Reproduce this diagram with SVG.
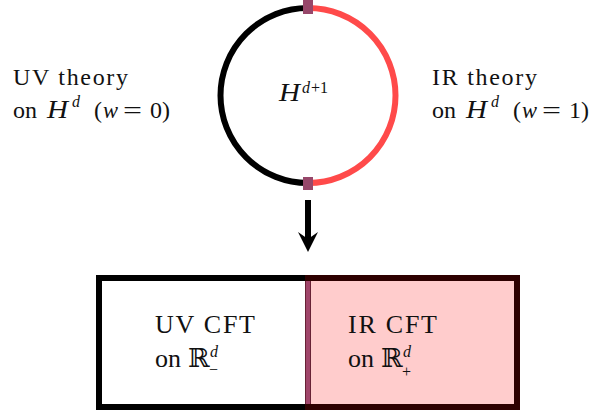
<svg xmlns="http://www.w3.org/2000/svg" width="597" height="415" viewBox="0 0 597 415">
<style>
text{font-family:"Liberation Serif","DejaVu Serif",serif;fill:#111;font-size:24px;}
.b{font-size:26px;}
.i{font-style:italic;}
.s{font-size:16px;}
</style>
<rect width="597" height="415" fill="#fff"/>
<g id="bulk">
<path d="M308,8 A87.5,87.5 0 0 0 308,183" fill="none" stroke="#000" stroke-width="6"/>
<path d="M308,8 A87.5,87.5 0 0 1 308,183" fill="none" stroke="#ff4a4a" stroke-width="6"/>
<rect x="303" y="0" width="10" height="14" fill="#97476a"/>
<rect x="303" y="177" width="10" height="13" fill="#97476a"/>
<text x="279" y="101" class="b i" textLength="21" lengthAdjust="spacingAndGlyphs">H</text>
<text x="302" y="93" class="s i">d</text>
<text x="311" y="93" class="s">+1</text>
</g>
<g id="uv-label">
<text x="13" y="85" textLength="115">UV theory</text>
<text x="13" y="118">on</text>
<text x="47" y="118" class="b i" textLength="21" lengthAdjust="spacingAndGlyphs">H</text>
<text x="72" y="107" class="s i">d</text>
<text x="94" y="118">(</text>
<text x="103" y="118" class="i" textLength="15" lengthAdjust="spacingAndGlyphs">w</text>
<text x="123" y="118" textLength="19" lengthAdjust="spacingAndGlyphs">=</text>
<text x="150" y="118">0)</text>
</g>
<g id="ir-label">
<text x="432" y="85" textLength="105">IR theory</text>
<text x="432" y="118">on</text>
<text x="466" y="118" class="b i" textLength="21" lengthAdjust="spacingAndGlyphs">H</text>
<text x="491" y="107" class="s i">d</text>
<text x="513" y="118">(</text>
<text x="522" y="118" class="i" textLength="15" lengthAdjust="spacingAndGlyphs">w</text>
<text x="542" y="118" textLength="19" lengthAdjust="spacingAndGlyphs">=</text>
<text x="569" y="118">1)</text>
</g>
<g id="connectors">
<line x1="308" y1="200" x2="308" y2="240" stroke="#000" stroke-width="6"/>
<path d="M298,232 L308,252 L318,232 L308,239 Z" fill="#000"/>
</g>
<g id="boundary">
<rect x="99" y="278" width="418" height="129" fill="#fff" stroke="#000" stroke-width="6"/>
<rect x="308" y="278" width="209" height="129" fill="#ffcccc" stroke="#2e0000" stroke-width="6"/>
<line x1="308" y1="281" x2="308" y2="404" stroke="#a0456a" stroke-width="5"/>
<text class="b" x="155" y="333" textLength="100">UV CFT</text>
<text class="b" x="155" y="367">on</text>
<text class="b" x="188" y="367">ℝ</text>
<text class="s i" x="210" y="357">d</text>
<text class="s" x="209" y="375">−</text>
<text class="b" x="348" y="333" textLength="89">IR CFT</text>
<text class="b" x="348" y="367">on</text>
<text class="b" x="381" y="367">ℝ</text>
<text class="s i" x="403" y="357">d</text>
<text class="s" x="402" y="377">+</text>
</g>
</svg>
